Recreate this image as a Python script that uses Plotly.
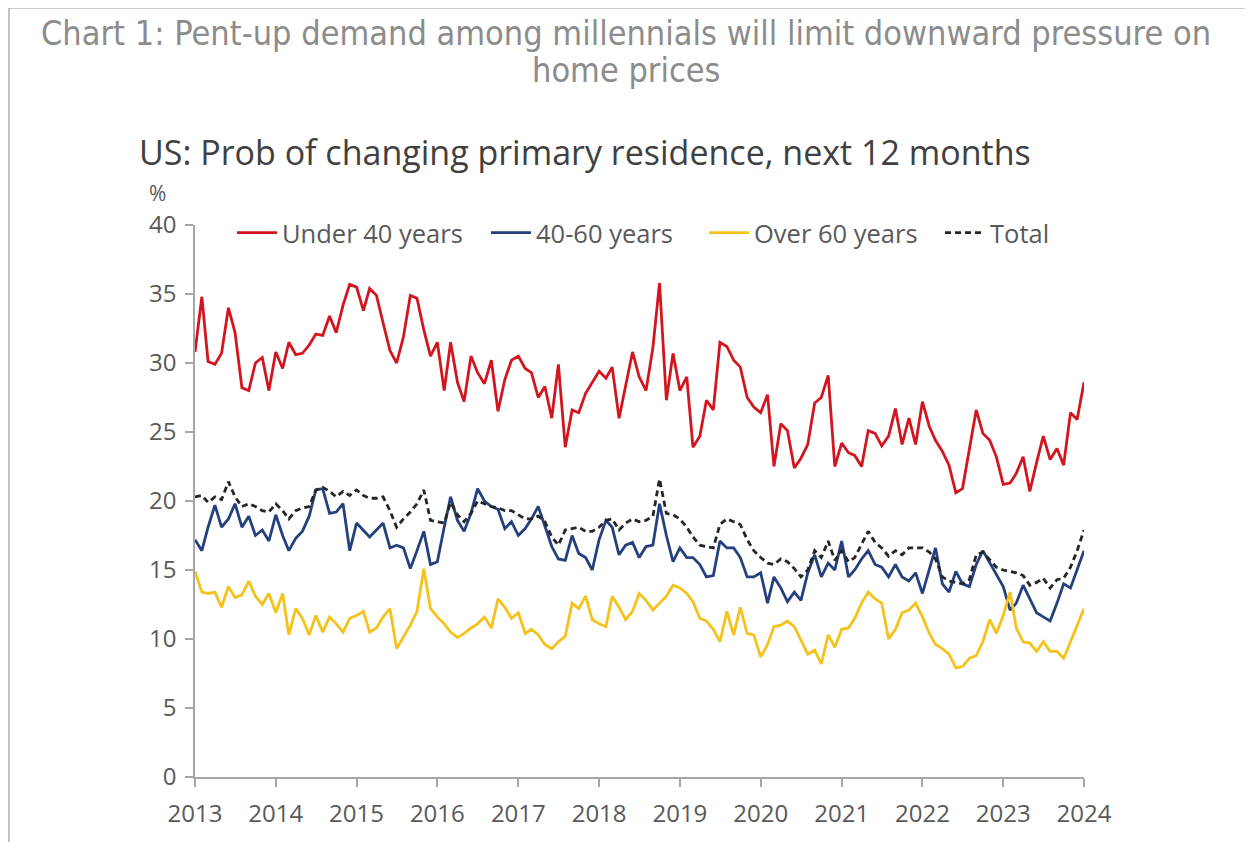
import pandas as pd
import plotly.graph_objects as go

dates = pd.date_range("2013-01-01", "2024-01-01", freq="MS")

under40 = [30.8, 34.8, 30.1, 29.9, 30.7, 34.0, 32.2, 28.2, 28.0, 30.0, 30.4, 28.0,
           30.8, 29.6, 31.5, 30.6, 30.7, 31.3, 32.1, 32.0, 33.4, 32.2, 34.2, 35.7,
           35.5, 33.8, 35.4, 34.9, 32.9, 30.9, 30.0, 31.9, 34.9, 34.7, 32.4, 30.5,
           31.5, 28.0, 31.5, 28.6, 27.2, 30.5, 29.3, 28.5, 30.2, 26.5, 28.8, 30.2,
           30.5, 29.6, 29.3, 27.5, 28.3, 26.0, 29.9, 23.9, 26.6, 26.4, 27.8, 28.6,
           29.4, 28.9, 29.7, 26.0, 28.4, 30.8, 29.0, 28.0, 31.1, 35.8, 27.3, 30.7,
           28.0, 29.0, 23.9, 24.7, 27.3, 26.6, 31.5, 31.2, 30.2, 29.7, 27.5, 26.8,
           26.4, 27.7, 22.5, 25.6, 25.1, 22.4, 23.1, 24.1, 27.1, 27.5, 29.1, 22.5,
           24.2, 23.5, 23.3, 22.5, 25.1, 24.9, 24.0, 24.7, 26.7, 24.1, 26.0, 24.1,
           27.2, 25.4, 24.4, 23.6, 22.6, 20.6, 20.9, 23.7, 26.6, 24.9, 24.4, 23.2,
           21.2, 21.3, 22.0, 23.2, 20.7, 22.8, 24.7, 23.0, 23.8, 22.6, 26.4, 25.9,
           28.6]

age40_60 = [17.2, 16.4, 18.1, 19.7, 18.1, 18.7, 19.8, 18.1, 18.9, 17.5, 17.9, 17.1,
            19.0, 17.5, 16.4, 17.3, 17.8, 18.9, 20.8, 20.9, 19.1, 19.2, 19.8, 16.4,
            18.4, 17.9, 17.4, 17.9, 18.4, 16.6, 16.8, 16.6, 15.1, 16.4, 17.8, 15.4,
            15.6, 18.1, 20.3, 18.6, 17.8, 19.1, 20.9, 20.0, 19.6, 19.4, 18.0, 18.5,
            17.5, 18.0, 18.7, 19.6, 18.1, 16.7, 15.8, 15.7, 17.5, 16.2, 15.9, 15.0,
            17.2, 18.6, 18.1, 16.1, 16.8, 17.0, 15.9, 16.7, 16.8, 19.8, 17.5, 15.6,
            16.6, 15.9, 15.9, 15.4, 14.5, 14.6, 17.1, 16.6, 16.6, 15.9, 14.5, 14.5,
            14.8, 12.6, 14.5, 13.7, 12.7, 13.4, 12.8, 14.8, 16.1, 14.5, 15.5, 15.0,
            17.1, 14.5, 15.0, 15.8, 16.4, 15.4, 15.2, 14.5, 15.4, 14.5, 14.2, 14.8,
            13.3, 15.0, 16.6, 14.0, 13.4, 14.9, 14.0, 13.8, 15.4, 16.4, 15.5, 14.6,
            13.8, 12.1, 12.6, 13.9, 12.9, 11.9, 11.6, 11.3, 12.6, 14.0, 13.7, 15.0,
            16.4]

over60 = [14.9, 13.4, 13.3, 13.4, 12.3, 13.8, 13.0, 13.2, 14.2, 13.1, 12.5, 13.3,
          11.9, 13.3, 10.3, 12.2, 11.5, 10.3, 11.7, 10.5, 11.6, 11.1, 10.5, 11.5,
          11.7, 12.0, 10.5, 10.8, 11.6, 12.2, 9.3, 10.2, 11.0, 12.0, 15.1, 12.2,
          11.6, 11.1, 10.5, 10.1, 10.4, 10.8, 11.1, 11.6, 10.8, 12.9, 12.3, 11.5,
          11.9, 10.4, 10.7, 10.3, 9.6, 9.3, 9.8, 10.2, 12.6, 12.2, 13.1, 11.4,
          11.1, 10.9, 13.1, 12.3, 11.4, 12.0, 13.3, 12.8, 12.1, 12.6, 13.1, 13.9,
          13.7, 13.3, 12.7, 11.5, 11.3, 10.7, 9.8, 12.0, 10.3, 12.3, 10.4, 10.3,
          8.7, 9.6, 10.9, 11.0, 11.3, 10.9, 9.9, 8.9, 9.2, 8.2, 10.3, 9.4,
          10.7, 10.8, 11.5, 12.6, 13.4, 12.9, 12.6, 10.0, 10.7, 11.9, 12.1, 12.6,
          11.6, 10.4, 9.6, 9.3, 8.9, 7.9, 8.0, 8.6, 8.8, 9.8, 11.4, 10.4,
          11.7, 13.4, 10.8, 9.8, 9.7, 9.1, 9.8, 9.1, 9.1, 8.6, 9.8, 11.0,
          12.2]

total = [20.3, 20.4, 19.9, 20.3, 20.1, 21.4, 20.3, 19.6, 19.8, 19.6, 19.3, 19.2,
         19.8, 19.3, 18.7, 19.3, 19.5, 19.6, 20.8, 21.0, 20.7, 20.3, 20.7, 20.4,
         20.8, 20.4, 20.2, 20.2, 20.3, 19.3, 18.1, 18.7, 19.2, 19.8, 20.8, 18.6,
         18.5, 18.4, 19.9, 19.0, 18.5, 19.1, 20.0, 19.8, 19.6, 19.5, 19.3, 19.3,
         19.0, 18.7, 18.7, 18.9, 18.5, 17.4, 16.8, 17.9, 18.0, 18.1, 17.8, 17.8,
         18.1, 18.6, 18.7, 17.9, 18.4, 18.7, 18.5, 18.6, 18.9, 21.6, 19.1, 19.0,
         18.7, 18.1, 17.4, 16.8, 16.7, 16.6, 18.3, 18.7, 18.5, 18.3, 17.2, 16.4,
         15.9, 15.5, 15.4, 15.8, 15.6, 15.1, 14.5, 15.0, 16.4, 15.9, 17.1, 15.7,
         16.4, 15.6, 15.9, 16.9, 17.8, 17.0, 16.6, 16.0, 16.4, 16.1, 16.6, 16.6,
         16.6, 16.3, 15.8, 14.5, 14.2, 14.1, 14.0, 14.3, 16.1, 16.3, 15.7, 15.2,
         15.0, 14.9, 14.8, 14.6, 13.9, 14.1, 14.4, 13.7, 14.3, 14.4, 15.2, 16.4,
         17.9]

series_names = ["Under 40 years", "40-60 years", "Over 60 years", "Total"]
series_values = [under40, age40_60, over60, total]
series_colors = ["#d2151e", "#24407f", "#f5c21b", "#262626"]
series_dash = ["solid", "solid", "solid", "6px,4px"]
legend_ids = ["legend", "legend2", "legend3", "legend4"]
legend_left_px = [240, 494, 712, 948]   # page x where each legend entry begins

# the page body adds an 8px offset; geometry below is in figure pixels
OFF = 8
FW, FH = 1245, 834
L, R, T, B = 195 - OFF, 1084 - OFF, 225 - OFF, 777 - OFF
W, H = R - L, B - T
def px(x):
    return (x - OFF - L) / W
def py(y):
    return (B - (y - OFF)) / H

fig = go.Figure()
for name, vals, col, dash, lg in zip(series_names, series_values, series_colors, series_dash, legend_ids):
    fig.add_trace(go.Scatter(x=dates, y=vals, mode="lines", name=name, legend=lg,
                             line=dict(color=col, width=2.8, dash=dash)))

axis_col = "#a6a6a6"
tick_font = dict(family="Open Sans, sans-serif", size=24, color="#595959")
legend_font = dict(family="Open Sans, sans-serif", size=25.5, color="#595959")

legend_layouts = {}
for lg, lx in zip(legend_ids, legend_left_px):
    legend_layouts[lg] = dict(orientation="h", x=px(lx - 8), xanchor="left",
                              y=py(233), yanchor="middle", font=legend_font,
                              bgcolor="rgba(0,0,0,0)", itemwidth=40)

fig.update_layout(
    width=FW, height=FH,
    margin=dict(l=L, r=FW - R, t=T, b=FH - B, autoexpand=False),
    paper_bgcolor="white", plot_bgcolor="white",
    showlegend=True,
    xaxis=dict(range=[dates[0], dates[-1]], showgrid=False, zeroline=False,
               showline=True, linecolor=axis_col, linewidth=1.5,
               ticks="outside", ticklen=8, tickcolor=axis_col, tickwidth=1.5,
               dtick="M12", tickformat="%Y", tick0="2013-01-01",
               tickfont=tick_font, ticklabelstandoff=6),
    yaxis=dict(range=[0, 40], showgrid=False, zeroline=False,
               showline=True, linecolor=axis_col, linewidth=1.5,
               ticks="outside", ticklen=8, tickcolor=axis_col, tickwidth=1.5,
               tickvals=[0, 5, 10, 15, 20, 25, 30, 35, 40],
               tickfont=tick_font, ticklabelstandoff=4),
    **legend_layouts,
)

title_font = dict(family="DejaVu Sans Condensed, Liberation Sans Narrow, sans-serif",
                  size=34, color="#8c8c8c")
fig.add_annotation(text="Chart 1: Pent-up demand among millennials will limit downward pressure on",
                   xref="paper", yref="paper", x=px(626), y=py(33), xanchor="center", yanchor="middle",
                   showarrow=False, font=title_font)
fig.add_annotation(text="home prices",
                   xref="paper", yref="paper", x=px(626), y=py(70), xanchor="center", yanchor="middle",
                   showarrow=False, font=title_font)
fig.add_annotation(text="US: Prob of changing primary residence, next 12 months",
                   xref="paper", yref="paper", x=px(137), y=py(152), xanchor="left", yanchor="middle",
                   showarrow=False,
                   font=dict(family="Open Sans, sans-serif", size=34, color="#404040"))
fig.add_annotation(text="%",
                   xref="paper", yref="paper", x=px(147), y=py(193), xanchor="left", yanchor="middle",
                   showarrow=False,
                   font=dict(family="Open Sans, sans-serif", size=21, color="#595959"))

border = dict(color="#9a9a9a", width=1.2)
fig.add_shape(type="line", xref="paper", yref="paper", x0=px(9), y0=py(8), x1=px(1249), y1=py(8), line=border)
fig.add_shape(type="line", xref="paper", yref="paper", x0=px(9), y0=py(8), x1=px(9), y1=py(842), line=border)
fig.add_shape(type="line", xref="paper", yref="paper", x0=px(1249), y0=py(8), x1=px(1249), y1=py(842), line=border)

fig.write_html("out.html")
